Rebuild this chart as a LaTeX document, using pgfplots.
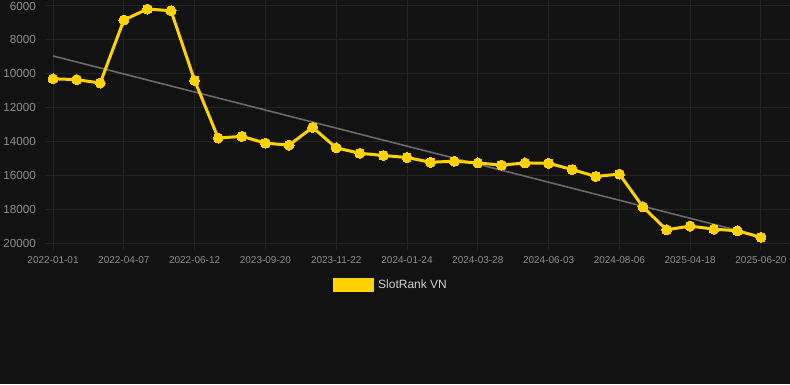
\documentclass[border=0pt]{standalone}
\usepackage{pgfplots}
\pgfplotsset{compat=1.18}
\usepackage{fontspec}
\setmainfont{Liberation Sans}
\definecolor{bg}{HTML}{121212}
\definecolor{gridc}{HTML}{232323}
\definecolor{txt}{HTML}{8E8E8E}
\definecolor{legtxt}{HTML}{D0D0D0}
\definecolor{gold}{HTML}{FFD200}
\definecolor{trendc}{HTML}{6A6A6A}
\begin{document}
\begin{tikzpicture}[x=1pt,y=1pt]
\fill[bg] (0,0) rectangle (790,384);
\begin{axis}[
  at={(45pt,141pt)}, anchor=south west,
  scale only axis, width=745pt, height=243pt,
  xmin=-0.34, xmax=31.23, ymin=5646, ymax=20000,
  y dir=reverse,
  clip=false,
  axis line style={draw=none},
  xtick={0,3,6,9,12,15,18,21,24,27,30},
  xticklabels={2022-01-01,2022-04-07,2022-06-12,2023-09-20,2023-11-22,2024-01-24,2024-03-28,2024-06-03,2024-08-06,2025-04-18,2025-06-20},
  ytick={6000,8000,10000,12000,14000,16000,18000,20000},
  scaled y ticks=false,
  /pgf/number format/1000 sep={},
  /pgf/number format/assume math mode=true,
  grid=major,
  major grid style={gridc, line width=1pt},
  xtick pos=bottom, ytick pos=left,
  tick align=outside,
  major tick length=7pt,
  xtick style={gridc, line width=1pt},
  ytick style={draw=none},
  xticklabel style={font=\fontsize{10}{12}\selectfont, text=txt, anchor=base, inner sep=0pt, yshift=-13pt},
  yticklabel style={font=\fontsize{11.7}{13}\selectfont, text=txt, anchor=east, inner sep=0pt, xshift=-2pt},
  legend style={at={(0.3866,-0.1708)}, anchor=west, draw=none, fill=none, inner sep=0pt,
    nodes={inner sep=0pt, text=legtxt, font=\fontsize{12}{14}\selectfont}, column sep=4pt},
  legend image code/.code={\fill[gold] (0pt,-5.5pt) rectangle (38pt,5.5pt);},
]
\addplot[trendc, line width=1.6pt, forget plot] coordinates {(0,8950) (29,19250)};
\addplot[gold, line width=3pt, mark=*, mark size=5pt, mark options={fill=gold, draw=gold, line width=0pt}] coordinates {
(0,10300) (1,10350) (2,10550) (3,6830) (4,6180) (5,6280) (6,10400) (7,13800)
(8,13700) (9,14100) (10,14220) (11,13170) (12,14380) (13,14700) (14,14830) (15,14950)
(16,15230) (17,15170) (18,15270) (19,15400) (20,15270) (21,15290) (22,15660) (23,16070)
(24,15930) (25,17870) (26,19220) (27,19000) (28,19180) (29,19280) (30,19660)
};
\addlegendentry{SlotRank VN}
\end{axis}
\pgfresetboundingbox
\useasboundingbox (0,0) rectangle (790,384);
\end{tikzpicture}
\end{document}
